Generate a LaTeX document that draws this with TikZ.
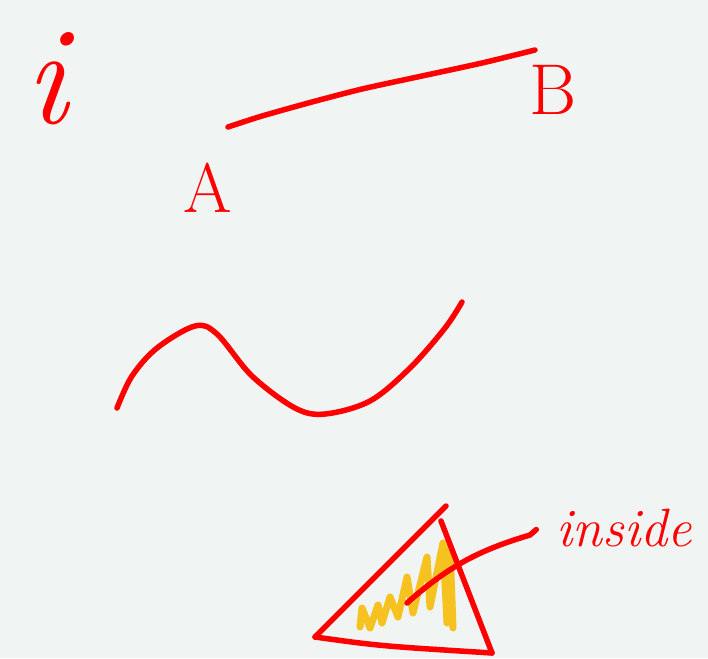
\documentclass[tikz,border=0pt]{standalone}
\usepackage{tikz}
\definecolor{paper}{HTML}{F0F4F3}
\definecolor{pen}{HTML}{FF0000}
\definecolor{marker}{HTML}{F6C21F}
\begin{document}
\begin{tikzpicture}[x=1pt, y=-1pt, >=latex,
    ink/.style={draw=pen, line width=5.5pt, line cap=round, line join=round},
    hand/.style={text=pen, inner sep=0pt, font=\itshape}]

    % 1. Nền giấy
    \fill[paper] (0,0) rectangle (708,658);
    \useasboundingbox (0,0) rectangle (708,658);

    % 2. Chữ i ở góc trái
    \node[hand, anchor=base, font=\fontsize{140}{140}\selectfont\itshape] (letter i) at (46,123) {i};

    % 3. Đoạn thẳng AB
    \coordinate (end A) at (228,127);
    \coordinate (end B) at (535,50);
    \draw[ink] plot[smooth, tension=0.4] coordinates {(end A) (262,116) (312,102) (362,89) (422,76) (482,63) (end B)};
    \node[hand, anchor=base, font=\fontsize{70}{70}\selectfont] (label A) at (208,212) {A};
    \node[hand, anchor=base, font=\fontsize{72}{72}\selectfont] (label B) at (553,114) {B};

    % 4. Đường cong hình sin
    \draw[ink] plot[smooth, tension=0.55] coordinates {(117,408) (132,376) (157,348) (195,326) (217,334)
        (252,376) (295,408) (325,414) (370,401) (410,368) (445,328) (462,302)};

    % 5. Tam giác và phần tô vàng bên trong
    \coordinate (tri left) at (315,637);
    \coordinate (tri top) at (446,506);
    \coordinate (tri right) at (492,653);
    \draw[marker, line width=7pt, line cap=round, line join=round]
        (360,627) -- (362,608) -- (370,628) -- (378,605) -- (382,623) -- (390,597) -- (398,617)
        -- (407,577) -- (413,613) -- (427,557) -- (430,607) -- (443,543) -- (447,623) -- (450,547) -- (453,628);
    \draw[ink] (tri left) -- (tri top);
    \draw[ink] (441,521) -- (tri right);
    \draw[ink] (tri left) .. controls (380,646) .. (tri right);

    % 6. Chú thích "inside"
    \node[hand, anchor=base, font=\fontsize{54}{54}\selectfont\itshape] (label inside) at (624,546) {inside};
    \coordinate (tri in) at (407,603);
    \draw[ink] (tri in) .. controls (450,565) and (480,550) .. (530,535) -- ([xshift=-20pt, yshift=-2pt]label inside.west);

\end{tikzpicture}
\end{document}
